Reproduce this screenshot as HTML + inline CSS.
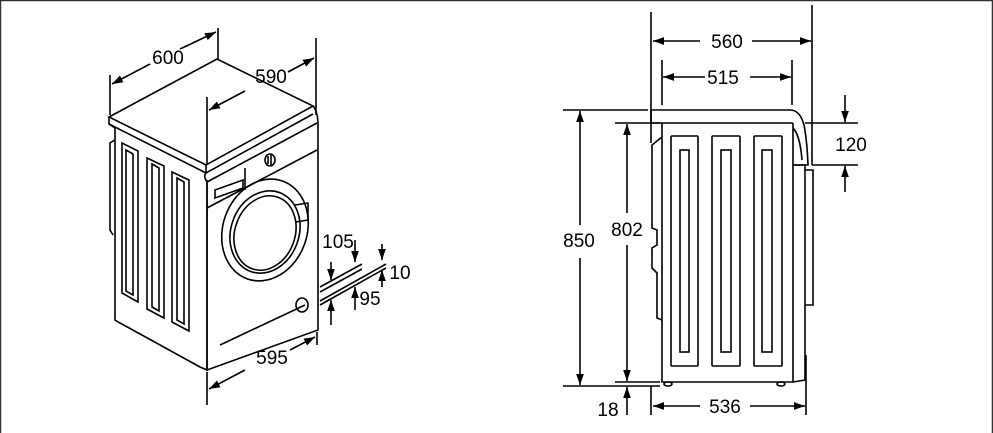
<!DOCTYPE html>
<html><head><meta charset="utf-8"><style>
html,body{margin:0;padding:0;background:#fff;}
svg{display:block;}
text{font-family:"Liberation Sans",sans-serif;font-size:19px;fill:#000;}
</style></head><body>
<svg width="993" height="433" viewBox="0 0 993 433" xmlns="http://www.w3.org/2000/svg">
<defs>
<marker id="a" viewBox="0 0 10 10" refX="10" refY="5" markerWidth="11" markerHeight="11" orient="auto-start-reverse" markerUnits="userSpaceOnUse"><path d="M0,1.5 L10,5 L0,8.5z" fill="#000"/></marker>
</defs>
<rect x="0.5" y="0.5" width="992" height="440" fill="none" stroke="#333" stroke-width="1.5"/>
<g fill="none" stroke="#000" stroke-width="1.6">
<path d="M109,117 L217,59 L313,106 L206,165 Z"/>
<path d="M109,117 L109,124 L206,173 L313,114"/>
<path d="M206,165 L206,173"/>
<path d="M313,106 Q318,112 318,125 L318,330 L207,370 L207,180"/>
<path d="M206,173 Q203,176 207,182 L207,370 L200,367 L120,323 L115,320 L115,128"/>
<path d="M109,124 L115,128"/>
<path d="M207,208 L317,150 M207,182 L317,123"/>
<path d="M245,168 L245,190"/>
<path d="M215,190 L243,180 L243,188 L215,198 Z"/>
<ellipse cx="270" cy="160" rx="5" ry="6"/>
<path d="M268,156 L268,164 M271,155 L271,165"/>
<ellipse cx="265" cy="230" rx="42" ry="52" transform="rotate(20 265 230)"/>
<ellipse cx="265" cy="232" rx="34" ry="42" transform="rotate(20 265 232)"/>
<ellipse cx="265" cy="233" rx="30" ry="38" transform="rotate(20 265 233)"/>
<path d="M295,205 L308,203 L308,220 L296,222"/>
<ellipse cx="302" cy="305" rx="6" ry="7"/>
<path d="M220,345 L305,305"/>
<path d="M122,143 L138,151 L138,302 L122,293 Z M126,150 L133,154 L133,295 L126,291 Z"/>
<path d="M147,158 L164,166 L164,318 L147,309 Z M152,164 L159,168 L159,311 L152,307 Z"/>
<path d="M172,172 L189,180 L189,331 L172,322 Z M177,178 L184,182 L184,324 L177,320 Z"/>
<path d="M115,140 L110,143 L110,230 L113,235"/>
<path d="M320,287 L362,264 M320,292 L362,269 M320,301 L386,264 M320,305 L386,268"/>
<path d="M110,75 L110,115 M218,28 L218,60 M207,97 L207,165 M316,38 L316,115 M207,372 L207,405 M317,332 L317,345"/>
<path d="M150,64 L112,84" marker-end="url(#a)"/>
<path d="M180,49 L216,32" marker-end="url(#a)"/>
<path d="M245,91 L209,110" marker-end="url(#a)"/>
<path d="M288,72 L314,58" marker-end="url(#a)"/>
<path d="M245,370 L209,389" marker-end="url(#a)"/>
<path d="M290,350 L315,337" marker-end="url(#a)"/>
<path d="M331,262 L331,280" marker-end="url(#a)"/>
<path d="M355,240 L355,262" marker-end="url(#a)"/>
<path d="M331,325 L331,300" marker-end="url(#a)"/>
<path d="M355,310 L355,287" marker-end="url(#a)"/>
<path d="M382,244 L382,260" marker-end="url(#a)"/>
<path d="M382,287 L382,270" marker-end="url(#a)"/>
<!-- RIGHT side view -->
<path d="M651,110 L790,110 Q800,110 804,125 Q807,140 808,165 L793,165"/>
<path d="M651,110 L651,123 L793,123"/>
<path d="M662,123 L662,382 L793,382 L793,123"/>
<path d="M793,128 Q800,135 802,160"/>
<path d="M793,165 L805,165 L805,380 L793,382"/>
<path d="M805,170 L813,170 L813,305 L805,305"/>
<path d="M662,137 L652,145 L652,228 L657,230 L657,245 L652,248 L652,268 L657,273 L657,318 L662,320"/>
<rect x="671" y="136" width="27" height="230" rx="1"/>
<rect x="712" y="136" width="28" height="230" rx="1"/>
<rect x="754" y="136" width="28" height="230" rx="1"/>
<rect x="680" y="150" width="9" height="202"/>
<rect x="721" y="150" width="10" height="202"/>
<rect x="762" y="150" width="10" height="202"/>
<ellipse cx="668" cy="384" rx="4" ry="2"/>
<ellipse cx="781" cy="384" rx="4" ry="2"/>
<path d="M651,12 L651,143 M651,386 L651,415 M812,5 L812,165 M662,60 L662,105 M792,60 L792,105 M806,355 L806,415"/>
<path d="M563,110 L648,110 M615,123 L660,123 M615,382 L660,382 M563,386 L660,386"/>
<path d="M805,123 L858,123 M812,165 L858,165"/>
<path d="M700,41 L653,41" marker-end="url(#a)"/>
<path d="M752,41 L811,41" marker-end="url(#a)"/>
<path d="M705,77 L663,77" marker-end="url(#a)"/>
<path d="M750,77 L791,77" marker-end="url(#a)"/>
<path d="M580,225 L580,111" marker-end="url(#a)"/>
<path d="M580,258 L580,385" marker-end="url(#a)"/>
<path d="M627,213 L627,124" marker-end="url(#a)"/>
<path d="M627,245 L627,381" marker-end="url(#a)"/>
<path d="M627,415 L627,387" marker-end="url(#a)"/>
<path d="M700,406 L653,406" marker-end="url(#a)"/>
<path d="M750,406 L805,406" marker-end="url(#a)"/>
<path d="M845,95 L845,122" marker-end="url(#a)"/>
<path d="M845,192 L845,166" marker-end="url(#a)"/>
</g>
<text x="168" y="64" text-anchor="middle">600</text>
<text x="271" y="83" text-anchor="middle">590</text>
<text x="272" y="364" text-anchor="middle">595</text>
<text x="338" y="248" text-anchor="middle">105</text>
<text x="400" y="279" text-anchor="middle">10</text>
<text x="370" y="305" text-anchor="middle">95</text>
<text x="727" y="48" text-anchor="middle">560</text>
<text x="723" y="84" text-anchor="middle">515</text>
<text x="579" y="247" text-anchor="middle">850</text>
<text x="627" y="236" text-anchor="middle">802</text>
<text x="608" y="416" text-anchor="middle">18</text>
<text x="725" y="413" text-anchor="middle">536</text>
<text x="851" y="151" text-anchor="middle">120</text>
</svg>
</body></html>
